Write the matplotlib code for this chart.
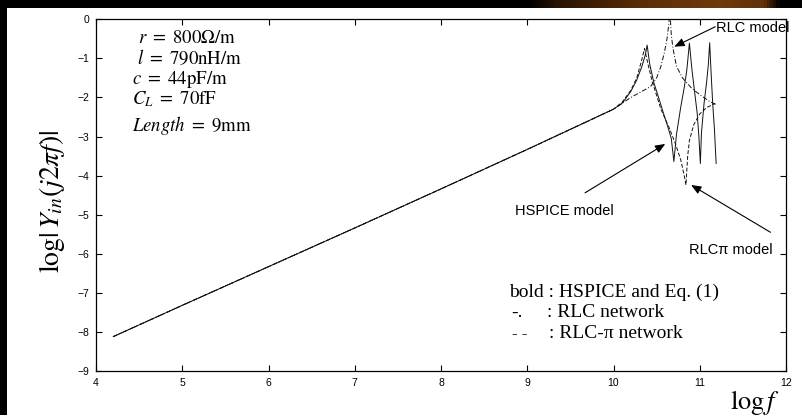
import matplotlib
matplotlib.use("Agg")
import matplotlib.pyplot as plt
import numpy as np
from matplotlib.colors import LinearSegmentedColormap

plt.rcParams["mathtext.fontset"] = "stix"
plt.rcParams["font.family"] = ["Liberation Sans", "DejaVu Sans"]

# low-frequency part shared by all three curves
logf_low = [4.2, 5.0, 6.0, 7.0, 8.0, 9.0, 10.0]
logy_low = [-8.12, -7.32, -6.33, -5.34, -4.34, -3.33, -2.30]

# HSPICE / Eq. (1) (solid)
hspice_f = [10.1, 10.2, 10.27, 10.33, 10.37, 10.39, 10.42, 10.47, 10.53, 10.58, 10.63, 10.67, 10.70,
            10.73, 10.78, 10.82, 10.85, 10.88, 10.91, 10.94, 10.97, 10.99, 11.007,
            11.02, 11.05, 11.08, 11.10, 11.115, 11.13, 11.15, 11.17, 11.19]
hspice_y = [-2.15, -1.85, -1.55, -1.2, -0.9, -0.66, -1.15, -1.64, -2.05, -2.41, -2.75, -3.05, -3.64,
            -2.95, -2.24, -1.75, -1.30, -0.61, -1.3, -1.85, -2.4, -3.0, -3.69,
            -2.9, -2.15, -1.6, -1.15, -0.60, -1.3, -2.15, -2.8, -3.69]

# RLC network (dash-dot)
rlc_f = [10.1, 10.2, 10.3, 10.43, 10.5, 10.55, 10.59, 10.62, 10.64, 10.655,
         10.67, 10.69, 10.73, 10.8, 10.9, 11.0, 11.1, 11.2]
rlc_y = [-2.15, -2.0, -1.88, -1.72, -1.5, -1.2, -0.85, -0.5, -0.15, 0.2,
         -0.4, -0.75, -1.2, -1.5, -1.75, -1.93, -2.08, -2.2]

# RLC-pi network (dashed)
rlcpi_f = [10.1, 10.2, 10.27, 10.32, 10.36, 10.4, 10.45, 10.55, 10.65, 10.72, 10.78, 10.82, 10.84,
           10.86, 10.88, 10.93, 11.0, 11.08, 11.18]
rlcpi_y = [-2.12, -1.82, -1.5, -1.1, -0.75, -1.15, -1.6, -2.3, -2.8, -3.2, -3.6, -4.0, -4.24,
           -3.5, -3.1, -2.7, -2.42, -2.26, -2.15]

fig = plt.figure(figsize=(8.02, 4.15), dpi=100)
fig.patch.set_facecolor("white")

# slide decoration: black frame on the left and top, orange glow in the top bar
left = fig.add_axes([0, 0, 7 / 802, 1])
left.set_axis_off()
left.add_patch(plt.Rectangle((0, 0), 1, 1, color="black", transform=left.transAxes))
top = fig.add_axes([0, 1 - 8 / 415, 1, 8 / 415])
top.set_axis_off()
glow = LinearSegmentedColormap.from_list(
    "glow", [(0.0, "black"), (0.66, "black"), (0.70, "#2a1404"), (0.80, "#5a2c06"),
             (0.90, "#703a0a"), (0.955, "#603008"), (0.975, "black"), (1.0, "black")])
top.imshow(np.linspace(0, 1, 802)[None, :], aspect="auto", cmap=glow,
           extent=[0, 1, 0, 1])

ax = fig.add_axes([96 / 802, 1 - 371 / 415, 690 / 802, 351.7 / 415])
ax.plot(logf_low + hspice_f, logy_low + hspice_y, color="#111111", linewidth=0.7)
ax.plot(logf_low + rlc_f, logy_low + rlc_y, color="#111111", linewidth=0.7,
        linestyle=(0, (5, 2, 1, 2)))
ax.plot(logf_low + rlcpi_f, logy_low + rlcpi_y, color="#111111", linewidth=0.7,
        linestyle=(0, (4, 2)))

ax.set_xlim(4, 12)
ax.set_ylim(-9, 0)
ax.set_xticks(range(4, 13))
ax.set_yticks(range(-9, 1))
ax.tick_params(direction="in", length=4, width=0.8, labelsize=7.5, pad=5,
               top=True, right=True, colors="black")
for spine in ax.spines.values():
    spine.set_linewidth(0.9)

serif = ["Liberation Serif", "DejaVu Serif"]
params = [
    (137.5, 43, r"$r\ =\ 800\mathrm{\Omega/m}$"),
    (137, 64, r"$l\ =\ 790\mathrm{nH/m}$"),
    (132, 84, r"$c\ =\ 44\mathrm{pF/m}$"),
    (132, 104, r"$C_L\ =\ 70\mathrm{fF}$"),
    (132, 131, r"$Length\ =\ 9\mathrm{mm}$"),
]
for px, py, s in params:
    fig.text(px / 802, 1 - py / 415, s, fontsize=13.5, va="baseline", ha="left")

fig.text(509 / 802, 1 - 297 / 415, "bold : HSPICE and Eq. (1)", family=serif,
         fontsize=14, va="baseline")
fig.text(511 / 802, 1 - 317 / 415, "-.", family=serif, fontsize=14, va="baseline")
fig.text(547 / 802, 1 - 317 / 415, ": RLC network", family=serif, fontsize=14,
         va="baseline")
fig.text(512 / 802, 1 - 338 / 415, "- -", family=serif, fontsize=12, va="baseline")
fig.text(549 / 802, 1 - 338 / 415, ": RLC-π network", family=serif, fontsize=14,
         va="baseline")

arrow = dict(arrowstyle="-|>,head_length=0.6,head_width=0.25", color="black",
             linewidth=0.8, shrinkA=0, shrinkB=0)
ax.annotate("", xy=(10.705, -0.70), xytext=(11.18, -0.19), arrowprops=arrow,
            annotation_clip=False)
ax.annotate("", xy=(10.60, -3.19), xytext=(9.67, -4.44), arrowprops=arrow,
            annotation_clip=False)
ax.annotate("", xy=(10.90, -4.24), xytext=(11.82, -5.45), arrowprops=arrow,
            annotation_clip=False)
ax.text(11.19, -0.33, "RLC model", fontsize=10.5, va="baseline", clip_on=False)
ax.text(8.86, -5.01, "HSPICE model", fontsize=10.5, va="baseline")
ax.text(10.88, -6.0, "RLCπ model", fontsize=10.5, va="baseline", clip_on=False)

fig.text(52 / 802, 1 - 201 / 415, r"$\log|\,Y_{in}(j2\pi f)|$", rotation=90,
         fontsize=20, ha="center", va="center")
fig.text(755 / 802, 1 - 402 / 415, r"$\log f$", fontsize=19, ha="center",
         va="center")

fig.savefig("out.png", dpi=100)
